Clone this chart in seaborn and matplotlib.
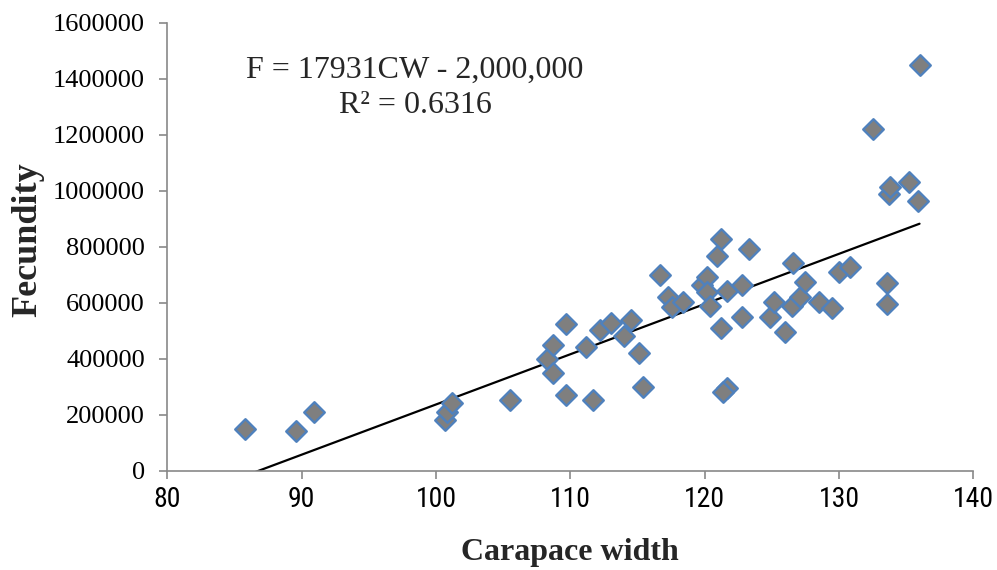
import matplotlib
matplotlib.use("Agg")
import matplotlib.pyplot as plt
import seaborn as sns
import numpy as np
import pandas as pd

carapace_width = [85.8, 89.6, 90.9, 100.7, 100.8, 101.2, 105.5, 108.3, 108.7, 108.7,
                  109.7, 109.7, 111.2, 111.7, 112.2, 113.0, 114.0, 114.5, 115.1, 115.4,
                  116.7, 117.3, 117.6, 118.4, 119.8, 120.2, 120.2, 120.4, 120.9, 121.2,
                  121.2, 121.7, 121.4, 121.7, 122.8, 122.8, 123.3, 124.9, 125.2, 126.0,
                  126.5, 126.6, 127.1, 127.5, 128.5, 129.5, 130.0, 130.8, 132.5, 133.6,
                  133.6, 133.7, 133.8, 135.2, 135.9, 136.0]
fecundity = [149000, 142000, 211000, 181000, 209000, 243000, 252000, 398000, 350000, 449000,
             524000, 270000, 443000, 252000, 503000, 529000, 481000, 538000, 419000, 300000,
             699000, 621000, 586000, 604000, 663000, 690000, 639000, 588000, 767000, 828000,
             511000, 296000, 282000, 642000, 663000, 548000, 792000, 550000, 604000, 496000,
             588000, 741000, 621000, 675000, 604000, 582000, 711000, 729000, 1219000, 671000,
             595000, 988000, 1014000, 1032000, 963000, 1449000]

x_ticks = [80, 90, 100, 110, 120, 130, 140]
y_ticks = [0, 200000, 400000, 600000, 800000, 1000000, 1200000, 1400000, 1600000]
equation_text = "F = 17931CW - 2,000,000\nR\u00b2 = 0.6316"
x_label = "Carapace width"
y_label = "Fecundity"

df = pd.DataFrame({"cw": carapace_width, "f": fecundity})

sns.set_theme(style="white")
plt.rcParams["font.family"] = ["Liberation Serif", "DejaVu Serif"]

fig = plt.figure(figsize=(9.97, 5.70), dpi=100)
ax = fig.add_axes([0.1678, 0.1742, 0.8084, 0.7860])

sns.regplot(data=df, x="cw", y="f", ax=ax, ci=None, marker="D",
            scatter_kws=dict(s=110, color="#7f7f7f", edgecolors="#4f81bd",
                             linewidths=1.7, alpha=1, zorder=3),
            line_kws=dict(color="black", linewidth=1.6, zorder=2))

ax.set_xlim(80, 140)
ax.set_ylim(0, 1600000)
ax.set_xticks(x_ticks)
ax.set_yticks(y_ticks)
ax.set_xticklabels([str(v) for v in x_ticks],
                   fontfamily=["Liberation Sans Narrow", "DejaVu Sans Condensed",
                               "Roboto Condensed", "DejaVu Sans"],
                   fontsize=20)
ax.set_yticklabels([str(v) for v in y_ticks], fontsize=19)

for side in ["top", "right"]:
    ax.spines[side].set_visible(False)
for side in ["left", "bottom"]:
    ax.spines[side].set_color("#898989")
    ax.spines[side].set_linewidth(1.2)
ax.tick_params(axis="both", direction="out", length=6, width=1.2, color="#898989",
               labelcolor="black", bottom=True, left=True)
ax.tick_params(axis="x", pad=5)
ax.tick_params(axis="y", pad=10)

ax.set_xlabel(x_label, fontsize=23, fontweight="bold")
ax.xaxis.set_label_coords(0.5, -0.151)
ax.set_ylabel(y_label, fontsize=26, fontweight="bold")
ax.yaxis.set_label_coords(-0.1525, 0.515)

fig.text(415 / 997, 1 - 88 / 570, equation_text, ha="center", va="center",
         fontsize=23, linespacing=1.25)

fig.savefig("out.png", dpi=100, facecolor="white")
